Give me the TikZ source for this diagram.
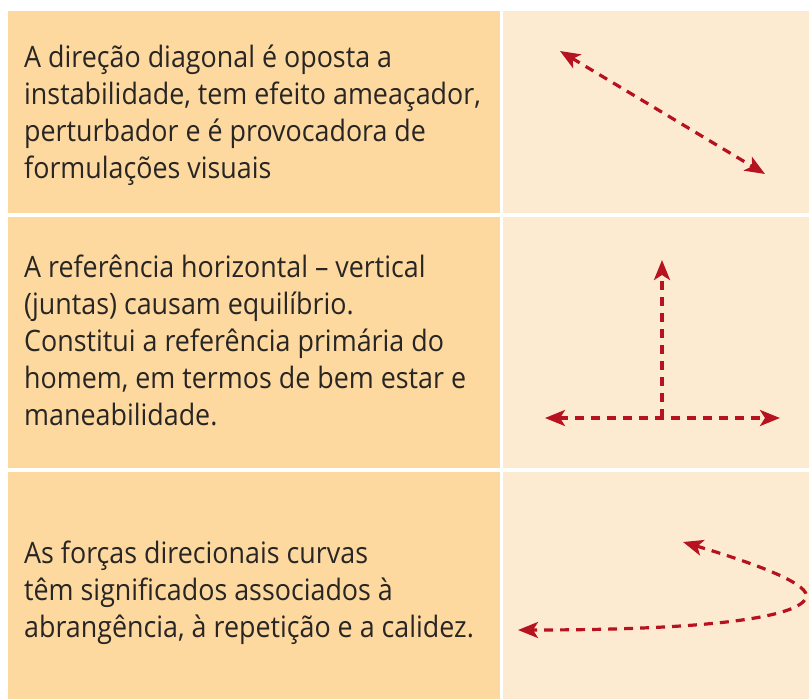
\documentclass[tikz,border=0pt]{standalone}
\usepackage{fontspec}
\setmainfont{Open Sans}[FakeStretch=0.91]
\usetikzlibrary{arrows.meta}
\definecolor{leftbg}{RGB}{253,216,159}
\definecolor{rightbg}{RGB}{253,235,209}
\definecolor{arrowred}{RGB}{182,18,32}
\definecolor{txt}{RGB}{40,38,36}
\begin{document}
\begin{tikzpicture}[x=1pt,y=-1pt,
  cell/.style={inner sep=0pt, outer sep=0pt, anchor=north west},
  leftcell/.style={cell, fill=leftbg},
  rightcell/.style={cell, fill=rightbg},
  celltext/.style={anchor=base west, inner sep=0pt, align=left, text=txt,
    font=\fontsize{29.5}{37}\selectfont},
  redtip/.tip={Stealth[length=20pt,width=16pt,inset=5pt]},
  dirarrow/.style={draw=arrowred, line width=3.2pt, dash pattern=on 9pt off 7pt,
    arrows={redtip-redtip}},
  onearrow/.style={draw=arrowred, line width=3.2pt, dash pattern=on 9pt off 7pt,
    arrows={-redtip}}
]
\useasboundingbox (0,0) rectangle (809,699);
\fill[white] (0,0) rectangle (809,699);
% cells
\node[leftcell, minimum width=492pt, minimum height=202pt] (l1) at (8,11) {};
\node[rightcell, minimum width=306pt, minimum height=202pt] (r1) at (503,11) {};
\node[leftcell, minimum width=492pt, minimum height=251pt] (l2) at (8,217) {};
\node[rightcell, minimum width=306pt, minimum height=251pt] (r2) at (503,217) {};
\node[leftcell, minimum width=492pt, minimum height=227pt] (l3) at (8,472) {};
\node[rightcell, minimum width=306pt, minimum height=227pt] (r3) at (503,472) {};
% texts (anchored at the baseline of the last line)
\node[celltext] (t1) at (24,178) {A direção diagonal é oposta a\\instabilidade, tem efeito ameaçador,\\perturbador e é provocadora de\\formulações visuais};
\node[celltext] (t2) at (24,425) {A referência horizontal – vertical\\(juntas) causam equilíbrio.\\Constitui a referência primária do\\homem, em termos de bem estar e\\maneabilidade.};
\node[celltext] (t3) at (24,637) {As forças direcionais curvas\\têm significados associados à\\abrangência, à repetição e a calidez.};
% row 1 arrow
\coordinate (d1) at (560,51);
\coordinate (d2) at (765,174);
\draw[dirarrow] (d1) -- (d2);
% row 2 arrows
\coordinate (hv) at (662,418);
\coordinate (vt) at (662,260);
\coordinate (hl) at (545,418);
\coordinate (hr) at (780,418);
\draw[onearrow] (hv) -- (vt);
\draw[dirarrow] (hl) -- (hr);
% row 3 curved arrow
\coordinate (c1) at (683,542);
\coordinate (cm) at (806,598);
\coordinate (c2) at (518,630);
\draw[dirarrow] (c1) .. controls (760,565) and (812,585) .. (cm) .. controls (798,616) and (720,630) .. (c2);
\end{tikzpicture}
\end{document}
